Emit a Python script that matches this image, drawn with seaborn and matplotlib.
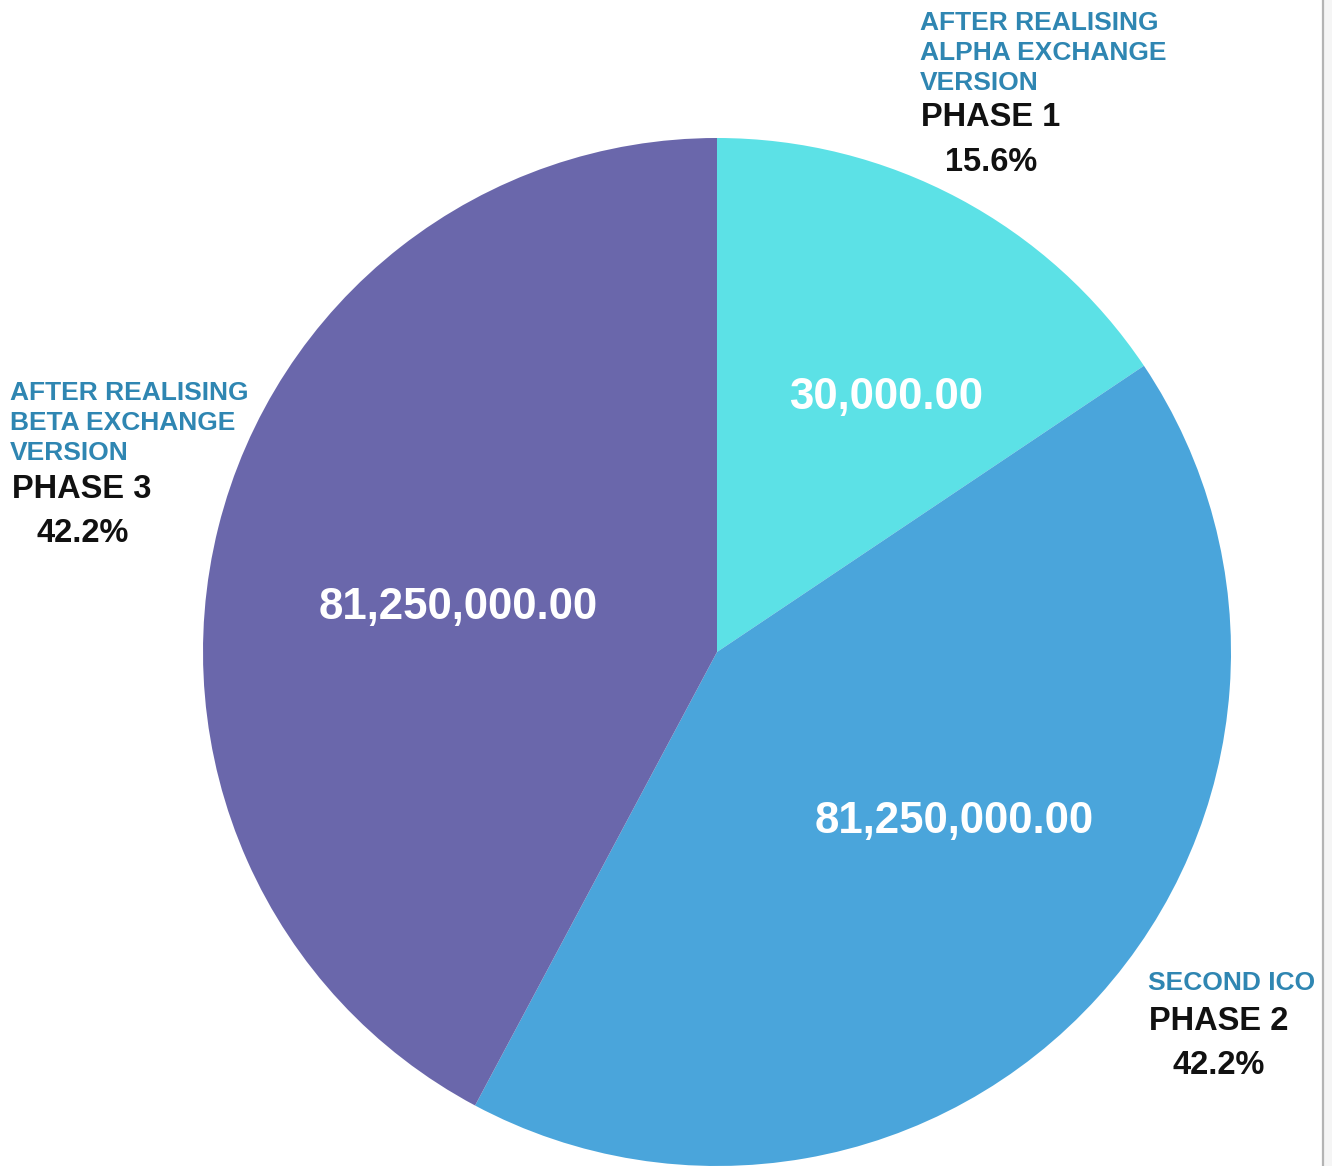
import matplotlib
matplotlib.use("Agg")
import matplotlib.pyplot as plt
import seaborn as sns
from matplotlib.lines import Line2D
from matplotlib.patches import Rectangle

# data
phases = ['PHASE 1', 'PHASE 2', 'PHASE 3']
notes = ['AFTER REALISING\nALPHA EXCHANGE\nVERSION', 'SECOND ICO', 'AFTER REALISING\nBETA EXCHANGE\nVERSION']
shares = [15.6, 42.2, 42.2]
amount_labels = ['30,000.00', '81,250,000.00', '81,250,000.00']
colors = ['#5CE1E6', '#4AA5DB', '#6A67AB']

sns.set_theme(style='white')
plt.rcParams['font.family'] = ['Liberation Sans', 'DejaVu Sans']

W, H = 1332, 1166
fig = plt.figure(figsize=(W / 100, H / 100), dpi=100)
fig.patch.set_facecolor('white')

# pie placed so radius 1 = 514 px, centre at (717, 652)
ax = fig.add_axes([203 / W, 0, 1028 / W, 1028 / H])
wedges, texts = ax.pie(shares, colors=colors, startangle=90, counterclock=False,
                       radius=1, labels=None, wedgeprops=dict(linewidth=0))
ax.set_xlim(-1, 1)
ax.set_ylim(-1, 1)
ax.set_aspect('equal')
ax.axis('off')

# amounts inside the slices (pixel positions of the reference)
inner_pos = [(886, 397), (954, 821), (458, 608)]
for (px, py), lab in zip(inner_pos, amount_labels):
    fig.text(px / W, 1 - py / H, lab, ha='center', va='center', color='white',
             fontsize=31.5, fontweight='bold')

# outside labels: note (blue), phase (black), share (black)
note_pos = [(920, 53), (1148, 983), (10, 423)]
phase_pos = [(921, 117), (1149, 1021), (12, 489)]
pct_pos = [(991, 163), (1219, 1065), (83, 533)]
for i in range(3):
    nx, ny = note_pos[i]
    fig.text(nx / W, 1 - ny / H, notes[i], ha='left', va='center', color='#2F86B2',
             fontsize=19, fontweight='bold', linespacing=1.3)
    fx, fy = phase_pos[i]
    fig.text(fx / W, 1 - fy / H, phases[i], ha='left', va='center', color='#111111',
             fontsize=23.5, fontweight='bold')
    qx, qy = pct_pos[i]
    fig.text(qx / W, 1 - qy / H, f'{shares[i]}%', ha='center', va='center', color='#111111',
             fontsize=23.5, fontweight='bold')

# screenshot edge on the right
fig.patches.append(Rectangle((1324 / W, 0), 8 / W, 1, transform=fig.transFigure,
                             facecolor='#F5F5F5', edgecolor='none'))
fig.lines.append(Line2D([1323 / W, 1323 / W], [0, 1], transform=fig.transFigure,
                        color='#B4B4B4', linewidth=1.6))

fig.savefig('out.png', dpi=100)
